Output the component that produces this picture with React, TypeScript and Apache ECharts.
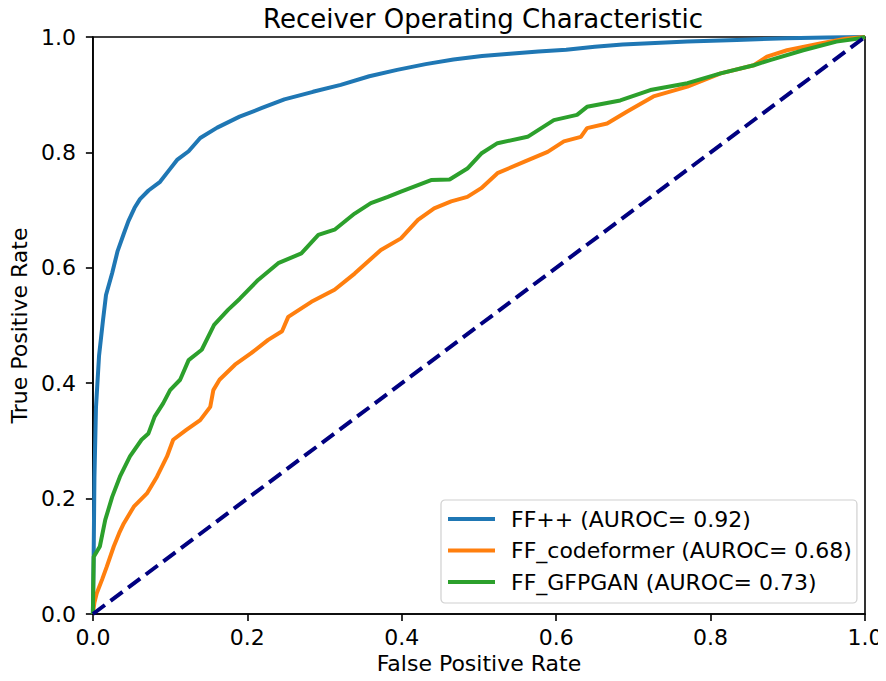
import React, { useEffect, useRef } from "react";
import * as echarts from "echarts";

const seriesNames = [
  "FF++ (AUROC= 0.92)",
  "FF_codeformer (AUROC= 0.68)",
  "FF_GFPGAN (AUROC= 0.73)",
];
const seriesColors = ["#1f77b4", "#ff7f0e", "#2ca02c"];

const ffppRoc: [number, number][] = [
  [0, 0], [0.001, 0.1], [0.002, 0.237], [0.004, 0.358], [0.008, 0.448], [0.013, 0.508],
  [0.017, 0.553], [0.025, 0.591], [0.032, 0.629], [0.04, 0.659], [0.046, 0.681],
  [0.054, 0.704], [0.061, 0.719], [0.072, 0.734], [0.087, 0.749], [0.098, 0.768],
  [0.109, 0.787], [0.124, 0.802], [0.139, 0.825], [0.161, 0.843], [0.19, 0.862],
  [0.219, 0.877], [0.248, 0.892], [0.285, 0.905], [0.321, 0.917], [0.358, 0.932],
  [0.394, 0.943], [0.431, 0.953], [0.467, 0.961], [0.504, 0.967], [0.54, 0.971],
  [0.577, 0.975], [0.613, 0.978], [0.65, 0.983], [0.686, 0.987], [0.77, 0.992],
  [0.834, 0.995], [0.899, 0.998], [0.95, 0.999], [1, 1],
];

const codeformerRoc: [number, number][] = [
  [0, 0], [0.002, 0.02], [0.005, 0.036], [0.012, 0.06], [0.018, 0.082], [0.027, 0.117],
  [0.034, 0.14], [0.04, 0.157], [0.053, 0.186], [0.07, 0.209], [0.083, 0.238],
  [0.096, 0.273], [0.104, 0.302], [0.121, 0.319], [0.139, 0.336], [0.152, 0.359],
  [0.156, 0.388], [0.164, 0.406], [0.184, 0.432], [0.205, 0.452], [0.227, 0.475],
  [0.245, 0.49], [0.253, 0.515], [0.283, 0.541], [0.313, 0.562], [0.339, 0.59],
  [0.373, 0.631], [0.399, 0.651], [0.421, 0.683], [0.442, 0.703], [0.464, 0.715],
  [0.485, 0.723], [0.503, 0.738], [0.524, 0.764], [0.559, 0.784], [0.589, 0.801],
  [0.61, 0.819], [0.632, 0.827], [0.64, 0.842], [0.666, 0.85], [0.692, 0.871],
  [0.726, 0.897], [0.77, 0.914], [0.813, 0.937], [0.856, 0.951], [0.873, 0.966],
  [0.899, 0.977], [0.942, 0.989], [0.975, 0.997], [1, 1],
];

const gfpganRoc: [number, number][] = [
  [0, 0], [0.001, 0.099], [0.009, 0.117], [0.016, 0.163], [0.025, 0.203], [0.035, 0.238],
  [0.048, 0.273], [0.063, 0.302], [0.072, 0.313], [0.08, 0.342], [0.091, 0.365],
  [0.1, 0.388], [0.113, 0.406], [0.124, 0.44], [0.141, 0.458], [0.157, 0.501],
  [0.175, 0.527], [0.19, 0.546], [0.214, 0.579], [0.24, 0.608], [0.27, 0.625],
  [0.292, 0.657], [0.313, 0.666], [0.339, 0.694], [0.36, 0.712], [0.382, 0.723],
  [0.399, 0.732], [0.438, 0.752], [0.462, 0.753], [0.485, 0.772], [0.503, 0.798],
  [0.524, 0.816], [0.563, 0.827], [0.597, 0.856], [0.627, 0.865], [0.64, 0.879],
  [0.683, 0.89], [0.722, 0.908], [0.77, 0.92], [0.813, 0.937], [0.856, 0.951],
  [0.877, 0.96], [0.92, 0.977], [0.963, 0.992], [0.994, 0.998], [1, 1],
];

const chanceLine: [number, number][] = [
  [0, 0],
  [1, 1],
];

const titleText = "Receiver Operating Characteristic";
const xAxisName = "False Positive Rate";
const yAxisName = "True Positive Rate";

const FONT = "DejaVu Sans";

export default function App() {
  const ref = useRef<HTMLDivElement>(null);
  useEffect(() => {
    if (!ref.current) return;
    const chart = echarts.init(ref.current, undefined, { renderer: "svg" });
    const curves = [ffppRoc, codeformerRoc, gfpganRoc];
    const axisCommon = {
      type: "value" as const,
      min: 0,
      max: 1,
      interval: 0.2,
      axisLine: { show: true, onZero: false, lineStyle: { color: "#000", width: 1.6 } },
      axisTick: { show: true, inside: false, length: 7, lineStyle: { color: "#000", width: 1.6 } },
      splitLine: { show: false },
      axisLabel: {
        color: "#000",
        fontSize: 22,
        fontFamily: FONT,
        formatter: (v: number) => v.toFixed(1),
      },
      nameLocation: "middle" as const,
      nameTextStyle: { color: "#000", fontSize: 22, fontFamily: FONT },
    };
    chart.setOption({
      animation: false,
      backgroundColor: "#fff",
      title: {
        text: titleText,
        left: 478,
        textAlign: "center",
        top: 1,
        textStyle: { color: "#000", fontSize: 26, fontWeight: "normal", fontFamily: FONT },
      },
      grid: {
        left: 91,
        right: 21,
        top: 37,
        bottom: 67,
        show: true,
        borderColor: "#000",
        borderWidth: 1.6,
        backgroundColor: "transparent",
      },
      legend: {
        data: seriesNames,
        orient: "vertical",
        left: 441,
        top: 500,
        padding: [8, 5, 10, 7],
        itemGap: 9.5,
        itemWidth: 47,
        itemHeight: 4,
        icon: "rect",
        selectedMode: false,
        borderColor: "#d0d0d0",
        borderWidth: 1.2,
        borderRadius: 4,
        backgroundColor: "rgba(255,255,255,0.8)",
        textStyle: {
          color: "#000",
          fontSize: 22,
          fontFamily: FONT,
          lineHeight: 22,
          padding: [0, 0, 0, 11],
        },
      },
      xAxis: {
        ...axisCommon,
        name: xAxisName,
        nameGap: 38,
        axisLabel: { ...axisCommon.axisLabel, margin: 12 },
      },
      yAxis: {
        ...axisCommon,
        name: yAxisName,
        nameGap: 58,
        axisLabel: { ...axisCommon.axisLabel, margin: 17 },
      },
      series: [
        ...curves.map((d, i) => ({
          name: seriesNames[i],
          type: "line",
          data: d,
          showSymbol: false,
          symbol: "none",
          color: seriesColors[i],
          lineStyle: { color: seriesColors[i], width: 4 },
          itemStyle: { color: seriesColors[i] },
          clip: true,
        })),
        {
          name: "chance",
          type: "line",
          data: chanceLine,
          showSymbol: false,
          symbol: "none",
          lineStyle: { color: "#000080", width: 4, type: [15, 7] },
          itemStyle: { color: "#000080" },
        },
      ],
    });
    return () => chart.dispose();
  }, []);
  return <div ref={ref} style={{ width: 886, height: 681, margin: -8 }} />;
}
